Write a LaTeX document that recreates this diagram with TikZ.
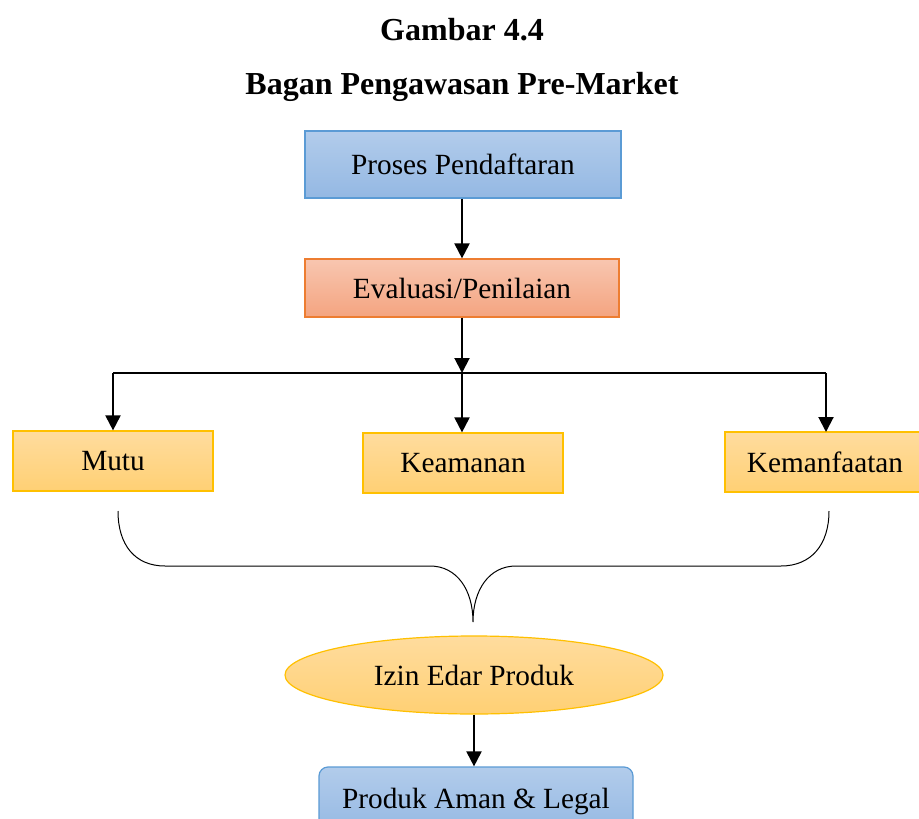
\documentclass[tikz,border=0pt]{standalone}
\usepackage{fontspec}
\setmainfont{Liberation Serif}
\usetikzlibrary{arrows.meta,shapes.geometric}
\definecolor{bluetop}{RGB}{178,204,235}
\definecolor{bluebot}{RGB}{148,184,227}
\definecolor{blueline}{RGB}{91,155,213}
\definecolor{orgtop}{RGB}{248,198,176}
\definecolor{orgbot}{RGB}{244,164,128}
\definecolor{orgline}{RGB}{237,125,49}
\definecolor{yeltop}{RGB}{255,220,158}
\definecolor{yelbot}{RGB}{255,208,116}
\definecolor{yelline}{RGB}{255,192,0}
\tikzset{
  txt/.style={font=\fontsize{29.3}{34}\selectfont, inner sep=0pt, align=center},
  ttl/.style={font=\fontsize{32}{38}\selectfont\bfseries, inner sep=0pt},
  bluebox/.style={txt, draw=blueline, line width=1.2pt, top color=bluetop, bottom color=bluebot, minimum width=316pt, minimum height=67pt},
  orgbox/.style={txt, draw=orgline, line width=1.2pt, top color=orgtop, bottom color=orgbot, minimum width=314pt, minimum height=58pt},
  yelbox/.style={txt, draw=yelline, line width=1.2pt, top color=yeltop, bottom color=yelbot, minimum width=200pt, minimum height=60pt},
  yelell/.style={txt, ellipse, draw=yelline, line width=1.2pt, top color=yeltop, bottom color=yelbot, minimum width=378pt, minimum height=78pt},
  arr/.style={line width=2pt, -{Triangle[length=15pt,width=15pt]}},
  thin/.style={line width=1.2pt},
  brace/.style={line width=1pt}
}
\begin{document}
\begin{tikzpicture}[x=1pt,y=-1pt]
\useasboundingbox (0,0) rectangle (919,819);
\clip (0,0) rectangle (919,819);
\fill[white] (0,0) rectangle (919,819);
\node[ttl] (t1) at (462,30) {Gambar 4.4};
\node[ttl] (t2) at (462,87) {Bagan Pengawasan Pre-Market};
\node[bluebox] (p) at (463,164.5) {Proses Pendaftaran};
\node[orgbox] (e) at (462,288) {Evaluasi/Penilaian};
\node[yelbox] (m) at (113,461) {Mutu};
\node[yelbox] (k) at (463,463) {Keamanan};
\node[yelbox] (f) at (825,462) {Kemanfaatan};
\node[yelell] (i) at (474,675) {Izin Edar Produk};
\node[bluebox, rounded corners=9pt, minimum width=314pt, minimum height=68pt] (l) at (476,801) {Produk Aman \& Legal};
\coordinate (j) at (462,373);
\draw[arr] (p.south -| 462,0) -- (e.north -| 462,0);
\draw[arr] (e.south -| 462,0) -- (j);
\draw[thin] (113,373) -- (826,373);
\draw[arr] (113,373) -- (m.north);
\draw[arr] (j) -- (k.north -| j);
\draw[arr] (826,373) -- (826,432);
\coordinate (bl) at (118,511);
\coordinate (br) at (829,511);
\coordinate (bc) at (473,622);
\draw[brace] (bl) .. controls (118,545) and (135,566) .. (165,566) -- (430,566)
  .. controls (457,566) and (473,590) .. (bc)
  .. controls (473,590) and (489,566) .. (516,566) -- (781,566)
  .. controls (811,566) and (829,545) .. (br);
\draw[arr] (i.south) -- (i.south |- l.north);
\end{tikzpicture}
\end{document}
